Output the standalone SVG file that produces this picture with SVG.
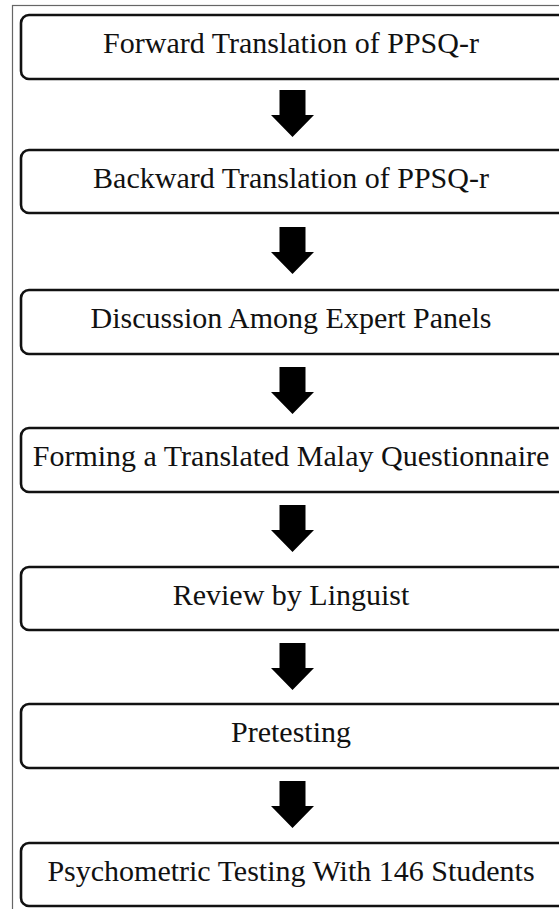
<svg xmlns="http://www.w3.org/2000/svg" width="559" height="909" viewBox="0 0 559 909">
<style>
.frame{fill:none;stroke:#666;stroke-width:1.2}
.box{fill:#fff;stroke:#111;stroke-width:2.6}
.lbl{font-family:"Liberation Serif","Times New Roman",serif;font-size:30px;fill:#111;text-anchor:middle}
.arr{fill:#000}
</style>
<defs>
<path id="arrow" d="M-13,0 L13,0 L13,25 L21.5,25 L0,47 L-21.5,25 L-13,25 Z"/>
</defs>
<rect width="559" height="909" fill="#fff"/>
<rect class="frame" x="12.5" y="5.5" width="600" height="1000"/>
<g id="n1"><rect class="box" x="21" y="15" width="600" height="64" rx="8"/><text class="lbl" x="291" y="53">Forward Translation of PPSQ-r</text></g>
<g id="n2"><rect class="box" x="21" y="150" width="600" height="63" rx="8"/><text class="lbl" x="291" y="188">Backward Translation of PPSQ-r</text></g>
<g id="n3"><rect class="box" x="21" y="290" width="600" height="64" rx="8"/><text class="lbl" x="291" y="328">Discussion Among Expert Panels</text></g>
<g id="n4"><rect class="box" x="21" y="428" width="600" height="64" rx="8"/><text class="lbl" x="291" y="466">Forming a Translated Malay Questionnaire</text></g>
<g id="n5"><rect class="box" x="21" y="567" width="600" height="63" rx="8"/><text class="lbl" x="291" y="605">Review by Linguist</text></g>
<g id="n6"><rect class="box" x="21" y="704" width="600" height="64" rx="8"/><text class="lbl" x="291" y="742">Pretesting</text></g>
<g id="n7"><rect class="box" x="21" y="843" width="600" height="63" rx="8"/><text class="lbl" x="291" y="881">Psychometric Testing With 146 Students</text></g>
<g id="connectors" class="arr">
<use href="#arrow" x="292.5" y="90"/>
<use href="#arrow" x="292.5" y="227"/>
<use href="#arrow" x="292.5" y="367"/>
<use href="#arrow" x="292.5" y="505"/>
<use href="#arrow" x="292.5" y="643"/>
<use href="#arrow" x="292.5" y="781"/>
</g>
</svg>
